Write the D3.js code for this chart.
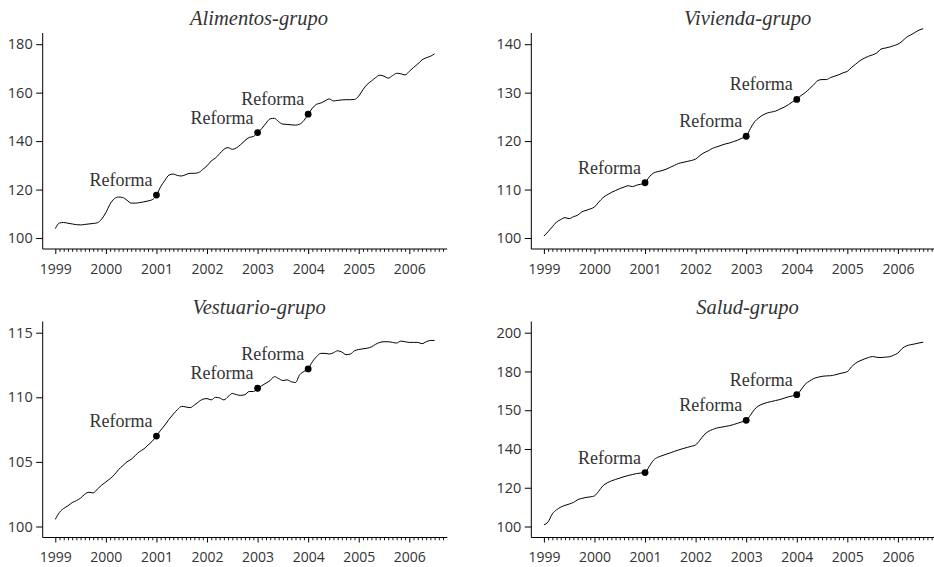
<!DOCTYPE html>
<html>
<head>
<meta charset="utf-8">
<script src="https://cdn.jsdelivr.net/npm/d3@7"></script>
<style>
  html, body { margin: 0; padding: 0; background: #fff; }
  svg { display: block; }
</style>
</head>
<body>
<svg id="chart" width="934" height="567"></svg>
<script>
// ---------------- DATA ----------------
const titles = ["Alimentos-grupo", "Vivienda-grupo", "Vestuario-grupo", "Salud-grupo"];
const startYear = 1999;            // monthly series start (January 1999)
const reformYears = [2001, 2003, 2004];
const reformLabel = "Reforma";
const xTickYears = [1999, 2000, 2001, 2002, 2003, 2004, 2005, 2006];

const alimentos = [
  103.9, 106.2, 106.4, 106.1, 105.8, 105.5, 105.4, 105.6, 105.8, 106.0, 106.3, 107.8,
  110.5, 114.0, 116.2, 116.9, 116.7, 115.6, 114.4, 114.4, 114.6, 114.9, 115.3, 115.8,
  117.7, 121.2, 123.8, 126.0, 126.4, 125.8, 125.6, 126.2, 126.7, 126.7, 127.0, 128.3,
  129.8, 131.8, 133.0, 134.8, 136.6, 137.3, 136.6, 137.2, 138.6, 140.2, 141.5, 141.9,
  143.5, 145.2, 147.4, 149.2, 149.4, 148.0, 147.0, 146.9, 146.7, 146.6, 147.0, 148.5,
  151.1, 153.6, 155.2, 155.7, 156.6, 157.4, 156.6, 156.8, 157.0, 157.1, 157.1, 157.2,
  158.6, 161.2, 163.4, 164.8, 166.2, 167.2, 166.8, 166.0, 167.0, 168.0, 167.8, 167.3,
  168.8, 170.4, 171.8, 173.5, 174.4, 175.0, 176.0
];
const vivienda = [
  100.4, 101.3, 102.3, 103.3, 103.8, 104.2, 104.0, 104.4, 104.7, 105.4, 105.7, 106.0,
  106.4, 107.4, 108.3, 108.9, 109.4, 109.8, 110.2, 110.5, 110.8, 110.6, 110.9, 111.1,
  111.4, 112.6, 113.4, 113.7, 113.9, 114.2, 114.6, 115.0, 115.4, 115.6, 115.8, 116.0,
  116.3, 117.0, 117.6, 118.0, 118.5, 118.8, 119.1, 119.4, 119.6, 119.9, 120.2, 120.6,
  121.0, 122.6, 124.0, 124.8, 125.4, 125.8, 126.0, 126.2, 126.6, 127.0, 127.5, 128.1,
  128.6, 129.4, 130.0, 130.8, 131.6, 132.5, 132.7, 132.7, 133.1, 133.4, 133.7, 134.1,
  134.4, 135.2, 135.9, 136.6, 137.1, 137.5, 137.8, 138.2, 139.0, 139.2, 139.4, 139.7,
  140.0, 140.6, 141.4, 141.9, 142.4, 142.9, 143.2
];
const vestuario = [
  100.55, 101.1, 101.4, 101.6, 101.85, 102.0, 102.2, 102.5, 102.65, 102.6, 102.9, 103.2,
  103.45, 103.7, 104.0, 104.4, 104.7, 105.0, 105.2, 105.5, 105.8, 106.0, 106.3, 106.6,
  107.0, 107.45, 107.85, 108.3, 108.7, 109.05, 109.3, 109.25, 109.2, 109.4, 109.65, 109.85,
  109.9, 109.8, 110.0, 109.95, 109.8, 110.05, 110.3, 110.2, 110.15, 110.2, 110.45, 110.45,
  110.7, 110.9, 111.1, 111.3, 111.6, 111.45, 111.3, 111.35, 111.2, 111.15, 111.75, 112.0,
  112.2, 112.75, 113.15, 113.4, 113.4, 113.35, 113.45, 113.6, 113.5, 113.3, 113.35, 113.6,
  113.7, 113.75, 113.8, 113.9, 114.1, 114.25, 114.3, 114.3, 114.25, 114.2, 114.35, 114.3,
  114.25, 114.25, 114.25, 114.15, 114.3, 114.4, 114.4
];
const salud = [
  100.9, 102.4, 106.5, 108.6, 110.0, 110.9, 111.6, 112.4, 113.8, 114.5, 115.0, 115.3,
  115.8, 118.2, 121.0, 122.5, 123.5, 124.3, 125.0, 125.7, 126.3, 126.8, 127.3, 127.6,
  127.8, 131.0, 134.2, 135.7, 136.5, 137.3, 138.0, 138.8, 139.5, 140.2, 140.8, 141.4,
  142.1, 144.5, 147.2, 149.0, 150.0, 150.8, 151.2, 151.6, 152.0, 152.6, 153.3, 154.0,
  154.8, 157.4, 160.5, 162.3, 163.3, 164.0, 164.5, 165.0, 165.5, 166.2, 166.9, 167.4,
  168.0, 170.5, 173.4, 175.0, 176.3, 177.0, 177.5, 177.7, 177.8, 178.2, 178.8, 179.3,
  179.9, 182.4, 184.3, 185.5, 186.4, 187.2, 187.7, 187.3, 187.2, 187.4, 187.6, 188.4,
  189.5, 191.8, 193.2, 193.8, 194.2, 194.7, 195.1
];

const alimentosTicks = [100, 120, 140, 160, 180];
const viviendaTicks = [100, 110, 120, 130, 140];
const vestuarioTicks = [100, 105, 110, 115];
const saludTicks = [100, 120, 140, 160, 180, 200];
const saludTickLabels = ["100", "120", "140", "150", "180", "200"];

// ---------------- LAYOUT ----------------
const panels = [
  { title: titles[0], values: alimentos, ticks: alimentosTicks, labels: alimentosTicks.map(String), col: 0, row: 0 },
  { title: titles[1], values: vivienda, ticks: viviendaTicks, labels: viviendaTicks.map(String), col: 1, row: 0 },
  { title: titles[2], values: vestuario, ticks: vestuarioTicks, labels: vestuarioTicks.map(String), col: 0, row: 1 },
  { title: titles[3], values: salud, ticks: saludTicks, labels: saludTickLabels, col: 1, row: 1 }
];

const colW = 488.6, rowH = 288.5;
const axisX = 42.7, axisY = 249, axisTop = 33;
const tickTop = 44.2, tickBottom = 238;
const textColor = "#333";
const tickFont = "'Open Sans', 'DejaVu Sans', sans-serif";
const serif = "'Liberation Serif', 'DejaVu Serif', serif";

const svg = d3.select("#chart");

panels.forEach(p => {
  const g = svg.append("g")
    .attr("transform", `translate(${p.col * colW},${p.row * rowH})`);

  const x = d3.scaleLinear().domain([1999, 2006]).range([55.3, 409.3]);
  const y = d3.scaleLinear()
    .domain([p.ticks[0], p.ticks[p.ticks.length - 1]])
    .range([tickBottom, tickTop]);

  const data = p.values.map((v, i) => ({ t: startYear + i / 12, v }));

  // axis lines
  g.append("line")
    .attr("x1", axisX).attr("x2", axisX)
    .attr("y1", axisTop).attr("y2", axisY)
    .attr("stroke", "#000").attr("stroke-width", 1);
  g.append("line")
    .attr("x1", axisX).attr("x2", x(2006.75))
    .attr("y1", axisY).attr("y2", axisY)
    .attr("stroke", "#000").attr("stroke-width", 1);

  // y axis
  const yAxis = d3.axisLeft(y)
    .tickValues(p.ticks)
    .tickSize(6.5)
    .tickPadding(3.5)
    .tickFormat((d, i) => p.labels[i]);
  const ya = g.append("g").attr("transform", `translate(${axisX},0)`).call(yAxis);
  ya.select(".domain").remove();
  ya.selectAll("line").attr("stroke", "#000");
  ya.selectAll("text")
    .attr("fill", textColor)
    .style("font-family", tickFont)
    .style("font-size", "14.5px");

  // x axis minor (monthly)
  const months = d3.range(0, 93).map(i => startYear + i / 12).filter((d, i) => i % 12 !== 0);
  const xMinor = d3.axisBottom(x).tickValues(months).tickSize(2.8).tickFormat("");
  const xm = g.append("g").attr("transform", `translate(0,${axisY})`).call(xMinor);
  xm.select(".domain").remove();
  xm.selectAll("line").attr("stroke", "#000").attr("stroke-width", 0.9);

  // x axis major
  const xAxis = d3.axisBottom(x).tickValues(xTickYears).tickSize(5).tickPadding(10).tickFormat(d3.format("d"));
  const xa = g.append("g").attr("transform", `translate(0,${axisY})`).call(xAxis);
  xa.select(".domain").remove();
  xa.selectAll("line").attr("stroke", "#000");
  xa.selectAll("text")
    .attr("fill", textColor)
    .style("font-family", tickFont)
    .style("font-size", "14px");

  // line
  const line = d3.line().x(d => x(d.t)).y(d => y(d.v)).curve(d3.curveMonotoneX);
  g.append("path")
    .datum(data)
    .attr("fill", "none")
    .attr("stroke", "#000")
    .attr("stroke-width", 1)
    .attr("d", line);

  // reform points
  const pts = reformYears.map(yr => ({ t: yr, v: p.values[(yr - startYear) * 12] }));
  g.selectAll("circle.ref").data(pts).enter().append("circle")
    .attr("class", "ref")
    .attr("cx", d => x(d.t)).attr("cy", d => y(d.v))
    .attr("r", 3.4).attr("fill", "#000");
  g.selectAll("text.ref").data(pts).enter().append("text")
    .attr("class", "ref")
    .attr("x", d => x(d.t) - 4)
    .attr("y", d => y(d.v) - 9)
    .attr("text-anchor", "end")
    .attr("fill", textColor)
    .style("font-family", serif)
    .style("font-size", "18px")
    .text(reformLabel);

  // title
  g.append("text")
    .attr("x", 259).attr("y", 25)
    .attr("text-anchor", "middle")
    .attr("fill", textColor)
    .style("font-family", serif)
    .style("font-style", "italic")
    .style("font-size", "20.5px")
    .text(p.title);
});
</script>
</body>
</html>
